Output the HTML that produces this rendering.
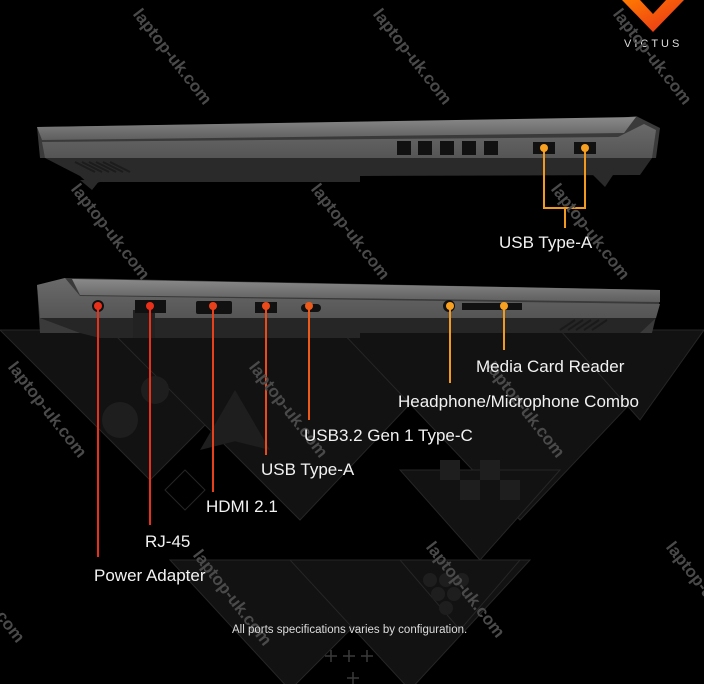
<!DOCTYPE html>
<html><head><meta charset="utf-8"><style>
html,body{margin:0;padding:0;background:#000;}
body{width:704px;height:684px;position:relative;overflow:hidden;font-family:"Liberation Sans",sans-serif;}
.lbl{position:absolute;color:#f2f2f2;font-size:17px;white-space:nowrap;line-height:1;}
.wm{position:absolute;color:#4a4a4a;font-size:17px;font-weight:bold;white-space:nowrap;transform:translate(-50%,-50%) rotate(52deg);}
</style></head><body>
<svg width="704" height="684" style="position:absolute;left:0;top:0">
<defs>
<linearGradient id="lid" x1="0" y1="0" x2="0" y2="1"><stop offset="0" stop-color="#8a8a8a"/><stop offset="1" stop-color="#5e5e5e"/></linearGradient>
<linearGradient id="side" x1="0" y1="0" x2="0" y2="1"><stop offset="0" stop-color="#6a6a6a"/><stop offset="1" stop-color="#555"/></linearGradient>
<linearGradient id="vg" x1="0" y1="0" x2="1" y2="1"><stop offset="0" stop-color="#ff7a00"/><stop offset="1" stop-color="#e8301a"/></linearGradient>
</defs>
<!-- background pattern -->
<g fill="#121212" stroke="#262626" stroke-width="1">
<polygon points="0,330 300,330 150,480"/>
<polygon points="110,330 480,330 300,520"/>
<polygon points="340,330 700,330 520,520"/>
<polygon points="560,330 704,330 640,420"/>
<polygon points="170,560 420,560 290,690"/>
<polygon points="290,560 530,560 410,690"/>
<polygon points="400,470 560,470 480,560"/>
<polygon points="400,560 520,560 460,630"/>
</g>
<g fill="#1e1e1e">
<circle cx="120" cy="420" r="18"/><circle cx="155" cy="390" r="14"/>
<polygon points="235,390 200,450 240,440"/><polygon points="235,390 270,450 230,440"/>
<rect x="440" y="460" width="20" height="20"/><rect x="480" y="460" width="20" height="20"/><rect x="460" y="480" width="20" height="20"/><rect x="500" y="480" width="20" height="20"/>
<circle cx="430" cy="580" r="7"/><circle cx="446" cy="580" r="7"/><circle cx="462" cy="580" r="7"/><circle cx="438" cy="594" r="7"/><circle cx="454" cy="594" r="7"/><circle cx="446" cy="608" r="7"/>
</g>
<g fill="none" stroke="#262626"><polygon points="185,470 205,490 185,510 165,490"/></g>
<!-- top laptop -->
<polygon points="37,127 620,118 636,116 648,122 660,128 656,158 40,158" fill="#3a3a3a"/>
<polygon points="37,127 636,117 624,133 42,140" fill="url(#lid)"/>
<polygon points="42,142 618,137 644,124 656,130 652,158 45,158" fill="url(#side)"/>
<polygon points="45,158 652,158 640,175 360,176 360,182 300,182 100,182 90,185 80,176" fill="#2a2a2a"/>
<polygon points="80,180 100,180 92,190" fill="#2a2a2a"/><polygon points="590,172 615,172 605,187" fill="#2a2a2a"/>
<g stroke="#1c1c1c" stroke-width="2"><line x1="75" y1="162" x2="95" y2="172"/><line x1="82" y1="162" x2="102" y2="172"/><line x1="89" y1="162" x2="109" y2="172"/><line x1="96" y1="162" x2="116" y2="172"/><line x1="103" y1="162" x2="123" y2="172"/><line x1="110" y1="162" x2="130" y2="172"/></g>
<g fill="#111"><rect x="397" y="141" width="14" height="14"/><rect x="418" y="141" width="14" height="14"/><rect x="440" y="141" width="14" height="14"/><rect x="462" y="141" width="14" height="14"/><rect x="484" y="141" width="14" height="14"/>
<rect x="533" y="142" width="22" height="12"/><rect x="574" y="142" width="22" height="12"/></g>
<!-- top connectors -->
<g stroke="#f29a1f" stroke-width="2" fill="none"><polyline points="544,148 544,208 585,208 585,148"/><line x1="565" y1="208" x2="565" y2="228"/></g>
<circle cx="544" cy="148" r="4" fill="#f8a020"/><circle cx="585" cy="148" r="4" fill="#f8a020"/>
<!-- bottom laptop -->
<polygon points="37,285 65,278 660,290 660,300 652,333 40,333" fill="#3a3a3a"/>
<polygon points="72,279 660,290 660,302 80,295" fill="url(#lid)"/>
<polygon points="37,285 65,278 80,296 660,304 656,318 40,318" fill="url(#side)"/>
<polygon points="40,318 656,318 640,333 360,333 360,338 100,338 80,333" fill="#262626"/>
<rect x="133" y="310" width="22" height="28" fill="#222"/>
<g stroke="#1a1a1a" stroke-width="2"><line x1="560" y1="330" x2="575" y2="320"/><line x1="568" y1="330" x2="583" y2="320"/><line x1="576" y1="330" x2="591" y2="320"/><line x1="584" y1="330" x2="599" y2="320"/><line x1="592" y1="330" x2="607" y2="320"/></g>
<g fill="#111"><circle cx="98" cy="306" r="6"/><rect x="135" y="300" width="31" height="13"/><rect x="196" y="301" width="36" height="13" rx="2"/><rect x="255" y="302" width="22" height="11"/><rect x="301" y="304" width="20" height="8" rx="4"/><circle cx="449" cy="306" r="6"/><rect x="462" y="303" width="60" height="7"/></g>
<!-- bottom connectors -->
<g stroke-width="2" fill="none">
<line x1="98" y1="306" x2="98" y2="557" stroke="#e8301a"/>
<line x1="150" y1="306" x2="150" y2="525" stroke="#e8301a"/>
<line x1="213" y1="306" x2="213" y2="492" stroke="#e8401a"/>
<line x1="266" y1="306" x2="266" y2="455" stroke="#eb4a1a"/>
<line x1="309" y1="306" x2="309" y2="420" stroke="#ee5a1a"/>
<line x1="450" y1="306" x2="450" y2="383" stroke="#f29a1f"/>
<line x1="504" y1="306" x2="504" y2="350" stroke="#f29a1f"/>
</g>
<g><circle cx="98" cy="306" r="4" fill="#e8301a"/><circle cx="150" cy="306" r="4" fill="#e8301a"/><circle cx="213" cy="306" r="4" fill="#e8401a"/><circle cx="266" cy="306" r="4" fill="#eb4a1a"/><circle cx="309" cy="306" r="4" fill="#ee5a1a"/><circle cx="450" cy="306" r="4" fill="#f8a020"/><circle cx="504" cy="306" r="4" fill="#f8a020"/></g>
<!-- logo -->
<polygon points="622,0 640,0 653,14 666,0 684,0 653,32" fill="url(#vg)"/>
<!-- plus signs -->
<g stroke="#3a3a3a" stroke-width="1.5"><path d="M325,656h12M331,650v12M343,656h12M349,650v12M361,656h12M367,650v12M347,678h12M353,672v12"/></g>
</svg>
<div class="lbl" style="left:624px;top:39px;font-size:11px;letter-spacing:3px;color:#ddd">VICTUS</div>
<div class="wm" style="left:172px;top:57px">laptop-uk.com</div>
<div class="wm" style="left:412px;top:57px">laptop-uk.com</div>
<div class="wm" style="left:652px;top:57px">laptop-uk.com</div>
<div class="wm" style="left:110px;top:232px">laptop-uk.com</div>
<div class="wm" style="left:350px;top:232px">laptop-uk.com</div>
<div class="wm" style="left:590px;top:232px">laptop-uk.com</div>
<div class="wm" style="left:47px;top:410px">laptop-uk.com</div>
<div class="wm" style="left:288px;top:410px">laptop-uk.com</div>
<div class="wm" style="left:525px;top:410px">laptop-uk.com</div>
<div class="wm" style="left:-15px;top:595px">laptop-uk.com</div>
<div class="wm" style="left:232px;top:598px">laptop-uk.com</div>
<div class="wm" style="left:465px;top:590px">laptop-uk.com</div>
<div class="wm" style="left:705px;top:590px">laptop-uk.com</div>
<div class="lbl" style="left:499px;top:234px">USB Type-A</div>
<div class="lbl" style="left:476px;top:358px">Media Card Reader</div>
<div class="lbl" style="left:398px;top:393px">Headphone/Microphone Combo</div>
<div class="lbl" style="left:304px;top:427px">USB3.2 Gen 1 Type-C</div>
<div class="lbl" style="left:261px;top:461px">USB Type-A</div>
<div class="lbl" style="left:206px;top:498px">HDMI 2.1</div>
<div class="lbl" style="left:145px;top:533px">RJ-45</div>
<div class="lbl" style="left:94px;top:567px">Power Adapter</div>
<div class="lbl" style="left:232px;top:625px;font-size:11.5px;color:#ddd">All ports specifications varies by configuration.</div>
</body></html>
